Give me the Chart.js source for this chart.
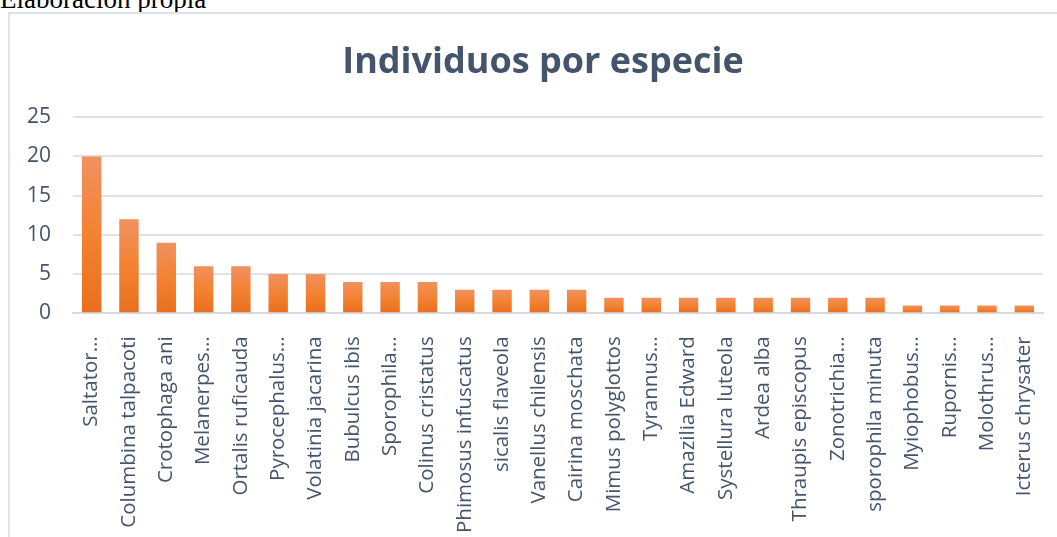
<!DOCTYPE html>
<html>
<head>
<meta charset="utf-8">
<script src="https://cdn.jsdelivr.net/npm/chart.js@4"></script>
<style>
    body { margin: 0; background: #fff; overflow: hidden; }
    .note {
        position: absolute; left: 0; top: -14px; line-height: 1;
        font-family: 'Liberation Serif', 'Times New Roman', serif;
        font-size: 27px; color: #000;
    }
    .box {
        position: absolute; left: 8px; top: 12px;
        width: 1070px; height: 560px;
        border-left: 2px solid #dfe3e8; border-top: 2px solid #dfe3e8;
    }
</style>
</head>
<body>
<div class="note">Elaboración propia</div>
<div class="box"><canvas id="chart" width="1049" height="552"></canvas></div>
<script>
// species names as they appear (truncated ones included)
const species = [
    'Saltator…', 'Columbina talpacoti', 'Crotophaga ani', 'Melanerpes…',
    'Ortalis ruficauda', 'Pyrocephalus…', 'Volatinia jacarina', 'Bubulcus ibis',
    'Sporophila…', 'Colinus cristatus', 'Phimosus infuscatus', 'sicalis flaveola',
    'Vanellus chilensis', 'Cairina moschata', 'Mimus polyglottos', 'Tyrannus…',
    'Amazilia Edward', 'Systellura luteola', 'Ardea alba', 'Thraupis episcopus',
    'Zonotrichia…', 'sporophila minuta', 'Myiophobus…', 'Rupornis…',
    'Molothrus…', 'Icterus chrysater'
];
const individuals = [20, 12, 9, 6, 6, 5, 5, 4, 4, 4, 3, 3, 3, 3, 2, 2, 2, 2, 2, 2, 2, 2, 1, 1, 1, 1];
const yTicks = [0, 5, 10, 15, 20, 25];

const textColor = '#44546a';
const font = "'Open Sans', sans-serif";

// each bar gets its own light-to-dark gradient, like the Excel style
function barFill(ctx) {
    const chart = ctx.chart;
    const y = chart.scales.y;
    if (!chart.chartArea || !y || ctx.parsed === undefined) return '#f0802f';
    const top = y.getPixelForValue(ctx.parsed.y);
    const base = y.getPixelForValue(0);
    const g = chart.ctx.createLinearGradient(0, top, 0, base);
    g.addColorStop(0, '#f09160');
    g.addColorStop(0.5, '#f38232');
    g.addColorStop(1, '#e86f1c');
    return g;
}

new Chart(document.getElementById('chart'), {
    type: 'bar',
    data: {
        labels: species,
        datasets: [{
            data: individuals,
            backgroundColor: barFill,
            barPercentage: 0.52,
            categoryPercentage: 1
        }]
    },
    options: {
        responsive: false,
        animation: false,
        layout: { padding: { left: 17, right: 0, top: 0, bottom: 10 } },
        plugins: {
            legend: { display: false },
            tooltip: { enabled: false },
            title: {
                display: true,
                text: 'Individuos por especie',
                color: textColor,
                font: { family: font, size: 36, weight: 'bold' },
                padding: { top: 27, bottom: 33 }
            }
        },
        scales: {
            x: {
                afterFit: axis => { axis.paddingRight = 16; },
                grid: { display: false, drawTicks: false },
                border: { color: '#d6dae0', width: 2 },
                ticks: {
                    color: textColor,
                    font: { family: font, size: 20.5 },
                    minRotation: 90, maxRotation: 90,
                    autoSkip: false,
                    padding: 23
                }
            },
            y: {
                min: 0, max: 25,
                afterBuildTicks: axis => { axis.ticks = yTicks.map(v => ({ value: v })); },
                afterFit: axis => { axis.width = 46; },
                grid: { color: '#dfe3e8', lineWidth: 2, drawTicks: false },
                border: { display: false },
                ticks: {
                    color: textColor,
                    font: { family: font, size: 21 },
                    padding: 22
                }
            }
        }
    }
});
</script>
</body>
</html>
